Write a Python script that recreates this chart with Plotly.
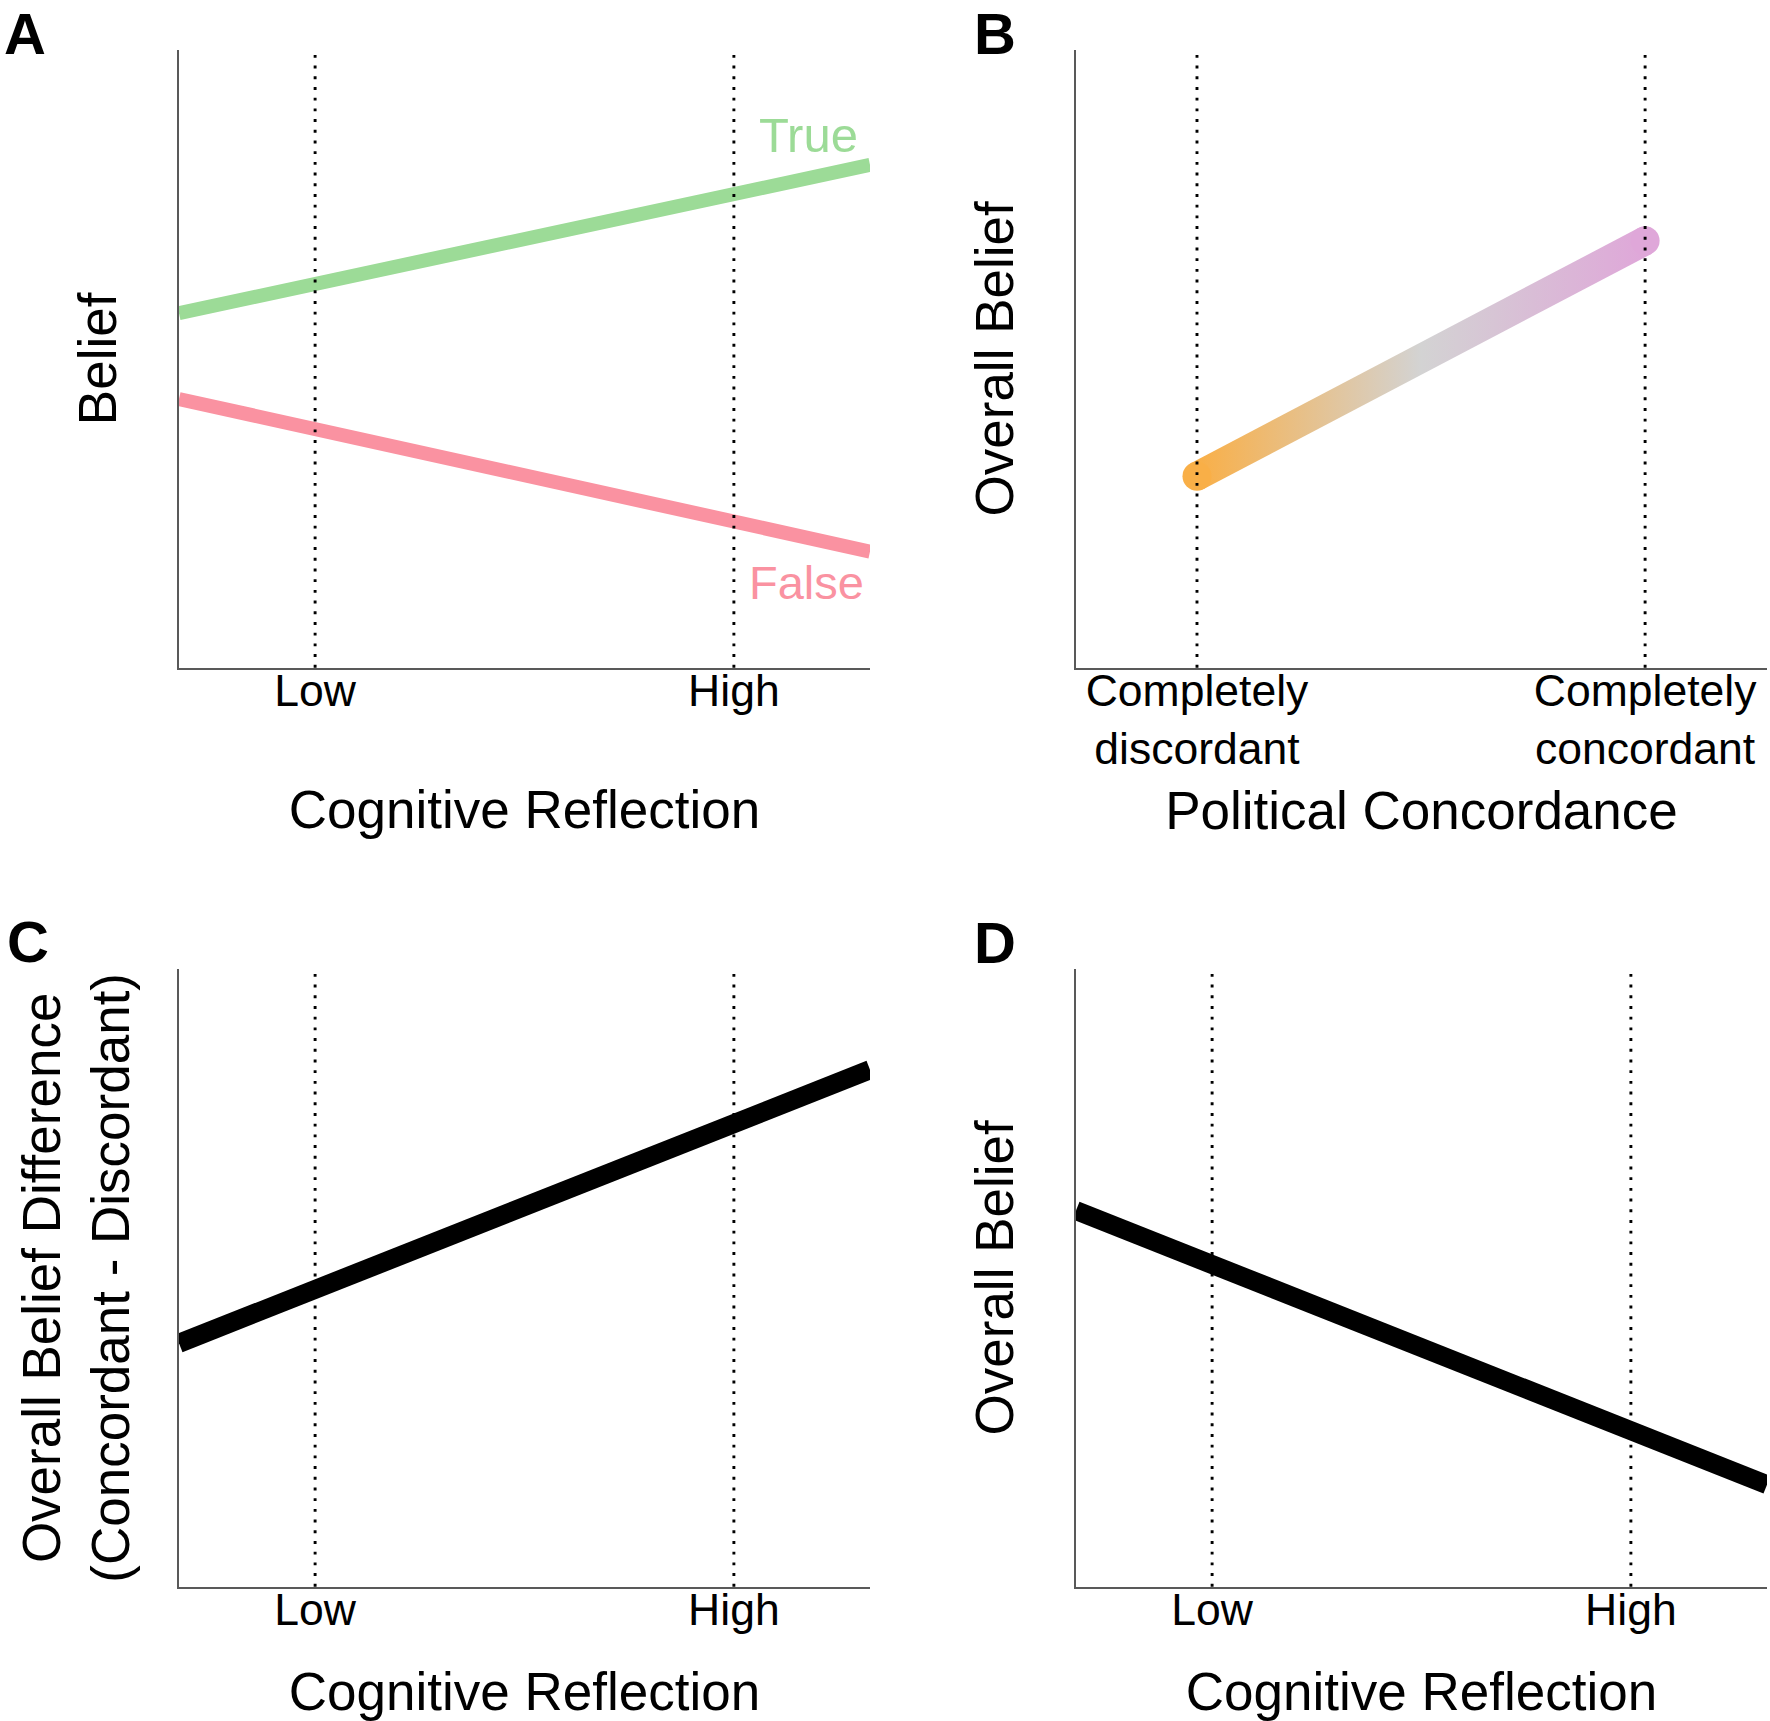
import plotly.graph_objects as go

W, H = 1770, 1721
FONT = "Liberation Sans, Arial, sans-serif"

# ---------------- data ----------------
cr_ticks = [-1, 1]
cr_labels = ["Low", "High"]
cr_x = [-1.65, 1.65]          # cognitive reflection, line spans
belief_true = [0.574, 0.814]
belief_false = [0.435, 0.188]

pc_ticks = [0, 1]
pc_labels = ["Completely<br>discordant", "Completely<br>concordant"]
pc_x = [0, 1]
overall_belief_pc = [0.310, 0.691]

belief_diff_cr = [0.394, 0.837]
overall_belief_cr = [0.609, 0.165]

# ---------------- styles ----------------
GREEN = "#9CDB97"
PINK = "#FA92A1"
ORANGE = "#F9AF47"
GREY_MID = "#D3D3D3"
VIOLET = "#DFA7D9"

TICK_FS = 44.5
TITLE_FS = 53

colA = [179 / W, 870 / W]
colB = [1076 / W, 1767 / W]
rowT = [1 - 667.7 / H, 1 - 50 / H]
rowB = [1 - 1586.7 / H, 1 - 969 / H]

CR_RANGE = [-1.65, 1.65]
PC_RANGE = [-0.27, 1.272]

fig = go.Figure()

# Panel A
fig.add_trace(go.Scatter(x=cr_x, y=belief_true, mode="lines",
                         line=dict(color=GREEN, width=14), xaxis="x", yaxis="y",
                         hoverinfo="skip", showlegend=False))
fig.add_trace(go.Scatter(x=cr_x, y=belief_false, mode="lines",
                         line=dict(color=PINK, width=14), xaxis="x", yaxis="y",
                         hoverinfo="skip", showlegend=False))

# Panel B: gradient band built from the two end points
lw_b = 29
px_per_x = (colB[1] - colB[0]) * W / (PC_RANGE[1] - PC_RANGE[0])
px_per_y = (rowT[1] - rowT[0]) * H / 1.0
dxp = (pc_x[1] - pc_x[0]) * px_per_x
dyp = (overall_belief_pc[1] - overall_belief_pc[0]) * px_per_y
L = (dxp ** 2 + dyp ** 2) ** 0.5
ox = (lw_b / 2) * (dyp / L) / px_per_x
oy = (lw_b / 2) * (dxp / L) / px_per_y
poly_x = [pc_x[0] - ox, pc_x[1] - ox, pc_x[1] + ox, pc_x[0] + ox, pc_x[0] - ox]
poly_y = [overall_belief_pc[0] + oy, overall_belief_pc[1] + oy,
          overall_belief_pc[1] - oy, overall_belief_pc[0] - oy, overall_belief_pc[0] + oy]
fig.add_trace(go.Scatter(x=poly_x, y=poly_y, mode="lines", fill="toself",
                         line=dict(width=0, color="rgba(0,0,0,0)"),
                         fillgradient=dict(type="horizontal",
                                           colorscale=[[0, ORANGE], [0.5, GREY_MID], [1, VIOLET]],
                                           start=pc_x[0], stop=pc_x[1]),
                         xaxis="x2", yaxis="y2", hoverinfo="skip", showlegend=False))
fig.add_trace(go.Scatter(x=pc_x, y=overall_belief_pc, mode="markers",
                         marker=dict(size=lw_b, color=[ORANGE, VIOLET], line=dict(width=0)),
                         xaxis="x2", yaxis="y2", hoverinfo="skip", showlegend=False))

# Panel C
fig.add_trace(go.Scatter(x=cr_x, y=belief_diff_cr, mode="lines",
                         line=dict(color="black", width=19), xaxis="x3", yaxis="y3",
                         hoverinfo="skip", showlegend=False))
# Panel D
fig.add_trace(go.Scatter(x=cr_x, y=overall_belief_cr, mode="lines",
                         line=dict(color="black", width=19), xaxis="x4", yaxis="y4",
                         hoverinfo="skip", showlegend=False))

# dotted reference lines
for xr, ticks in [("x", cr_ticks), ("x2", pc_ticks), ("x3", cr_ticks), ("x4", cr_ticks)]:
    for t in ticks:
        fig.add_shape(type="line", xref=xr, yref=xr.replace("x", "y") + " domain",
                      x0=t, x1=t, y0=0, y1=1, layer="above",
                      line=dict(color="black", width=2.9, dash="2.9px,7.8px"))

axis_line = dict(showgrid=False, zeroline=False, showline=True, linecolor="#595959",
                 linewidth=1.5, ticks="", automargin=False, fixedrange=True)

def xax(domain, anchor, rng, tv, tt, title, standoff):
    return dict(axis_line, domain=domain, anchor=anchor, range=rng, tickvals=tv, ticktext=tt,
                ticklabelstandoff=-17,
                tickfont=dict(size=TICK_FS, color="black", family=FONT),
                title=dict(text=title, font=dict(size=TITLE_FS, color="black", family=FONT),
                           standoff=standoff))

def yax(domain, anchor, title, standoff):
    return dict(axis_line, domain=domain, anchor=anchor, range=[0, 1], showticklabels=False,
                title=dict(text=title, font=dict(size=TITLE_FS, color="black", family=FONT),
                           standoff=standoff))

fig.update_layout(
    width=W, height=H, margin=dict(l=0, r=0, t=0, b=0),
    paper_bgcolor="white", plot_bgcolor="white",
    font=dict(family=FONT, color="black"),
    showlegend=False,
    xaxis=xax(colA, "y", CR_RANGE, cr_ticks, cr_labels, "Cognitive Reflection", 77),
    yaxis=yax(rowT, "x", "Belief", 44),
    xaxis2=xax(colB, "y2", PC_RANGE, pc_ticks, pc_labels, "Political Concordance", 20),
    yaxis2=yax(rowT, "x2", "Overall Belief", 44),
    xaxis3=xax(colA, "y3", CR_RANGE, cr_ticks, cr_labels, "Cognitive Reflection", 47),
    yaxis3=yax(rowB, "x3", "Overall Belief Difference<br>(Concordant - Discordant)", 31),
    xaxis4=xax(colB, "y4", CR_RANGE, cr_ticks, cr_labels, "Cognitive Reflection", 47),
    yaxis4=yax(rowB, "x4", "Overall Belief", 44),
)

# series labels in panel A, anchored to the line ends
fig.add_annotation(x=cr_x[1], y=belief_true[1], xref="x", yref="y", text="True",
                   showarrow=False, xanchor="right", yanchor="middle", xshift=-10, yshift=30,
                   font=dict(size=49, color=GREEN, family=FONT))
fig.add_annotation(x=cr_x[1], y=belief_false[1], xref="x", yref="y", text="False",
                   showarrow=False, xanchor="right", yanchor="middle", xshift=-4, yshift=-31,
                   font=dict(size=47, color=PINK, family=FONT))

# panel letters (top row kept inside the page edge)
for letter, px in [("A", 3), ("B", 973)]:
    fig.add_annotation(x=px / W, y=1, xref="paper", yref="paper",
                       text=f"<b>{letter}</b>", showarrow=False, xanchor="left",
                       yanchor="top", borderpad=0,
                       font=dict(size=58, color="black", family=FONT))
for letter, px, py in [("C", 5, 941.5), ("D", 972, 942)]:
    fig.add_annotation(x=px / W, y=1 - py / H, xref="paper", yref="paper",
                       text=f"<b>{letter}</b>", showarrow=False, xanchor="left",
                       yanchor="middle", font=dict(size=58, color="black", family=FONT))

fig.write_html("out.html", config={"displayModeBar": False},
               post_script="document.body.style.margin='0px';document.body.style.overflow='hidden';")
